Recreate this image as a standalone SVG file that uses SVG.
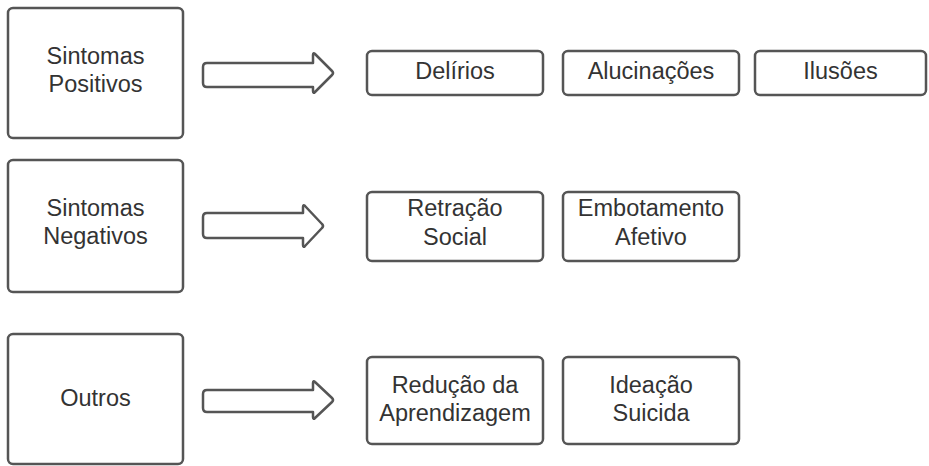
<svg xmlns="http://www.w3.org/2000/svg" width="929" height="466" viewBox="0 0 929 466">
<style>
.box{fill:#fff;stroke:#555;stroke-width:2.5}
.arr{fill:#fff;stroke:#555;stroke-width:2.5;stroke-linejoin:round}
text{font-family:"Liberation Sans",Arial,sans-serif;font-size:23.5px;fill:#333;text-anchor:middle}
</style>
<rect width="929" height="466" fill="#fff"/>
<g id="n-positivos"><rect class="box" x="8" y="8" width="175" height="130" rx="5"/><text x="95.5" y="64">Sintomas</text><text x="95.5" y="92">Positivos</text></g>
<g id="n-negativos"><rect class="box" x="8" y="160" width="175" height="132" rx="5"/><text x="95.5" y="216">Sintomas</text><text x="95.5" y="244">Negativos</text></g>
<g id="n-outros"><rect class="box" x="8" y="334" width="175" height="130" rx="5"/><text x="95.5" y="406">Outros</text></g>
<g id="n-delirios"><rect class="box" x="367" y="51" width="176" height="44" rx="5"/><text x="455" y="79">Delírios</text></g>
<g id="n-alucinacoes"><rect class="box" x="563" y="51" width="176" height="44" rx="5"/><text x="651" y="79">Alucinações</text></g>
<g id="n-ilusoes"><rect class="box" x="755" y="51" width="171" height="44" rx="5"/><text x="840.5" y="79">Ilusões</text></g>
<g id="n-retracao"><rect class="box" x="367" y="192" width="176" height="69" rx="5"/><text x="455" y="216">Retração</text><text x="455" y="245">Social</text></g>
<g id="n-embotamento"><rect class="box" x="563" y="192" width="176" height="69" rx="5"/><text x="651" y="216">Embotamento</text><text x="651" y="245">Afetivo</text></g>
<g id="n-reducao"><rect class="box" x="367" y="357" width="176" height="87" rx="5"/><text x="455" y="393">Redução da</text><text x="455" y="421">Aprendizagem</text></g>
<g id="n-ideacao"><rect class="box" x="563" y="357" width="176" height="87" rx="5"/><text x="651" y="393">Ideação</text><text x="651" y="421">Suicida</text></g>
<g id="connectors">
<path class="arr" d="M207,63 H313 V55 Q313,52 315,54 L332,71 Q334,73 332,75 L315,92 Q313,94 313,91 V87 H207 Q203,87 203,83 V67 Q203,63 207,63 Z"/>
<path class="arr" d="M207,213 H303 V207 Q303,204 305,206 L322,224 Q324,226 322,228 L305,246 Q303,248 303,245 V238 H207 Q203,238 203,234 V217 Q203,213 207,213 Z"/>
<path class="arr" d="M207,390 H313 V383 Q313,380 315,382 L332,398 Q334,400 332,402 L315,418 Q313,420 313,417 V412 H207 Q203,412 203,408 V394 Q203,390 207,390 Z"/>
</g>
</svg>
